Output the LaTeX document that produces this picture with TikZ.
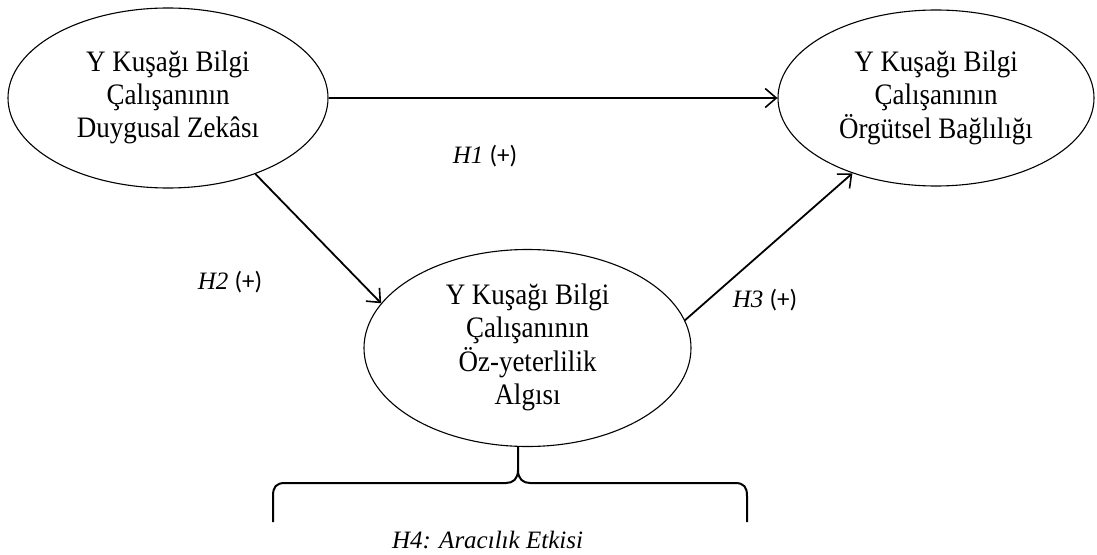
\documentclass[tikz,border=0pt]{standalone}
\usepackage{fontspec}
\setmainfont{Liberation Serif}
\newfontfamily\calib{Carlito}
\usetikzlibrary{shapes.geometric,arrows.meta}
\newcommand{\tallstack}[1]{\scalebox{1}[1.1]{\begin{tabular}{@{}c@{}}#1\end{tabular}}}
\begin{document}
\begin{tikzpicture}[x=1pt,y=-1pt,
  construct/.style={draw,ellipse,inner sep=0pt,line width=1.1pt,
    font=\fontsize{27}{30}\selectfont},
  hyp/.style={-{Straight Barb[length=11pt,width=19pt,line width=1.6pt]},line width=1.8pt},
  hlabel/.style={inner sep=0pt,font=\fontsize{25}{28}\selectfont}]
\useasboundingbox (0,0) rectangle (1097,554);
\node[construct,minimum width=320pt,minimum height=180pt] (e1) at (168,98)
  {\tallstack{Y Kuşağı Bilgi\\Çalışanının\\Duygusal Zekâsı}};
\node[construct,minimum width=316pt,minimum height=176pt] (e2) at (936,98)
  {\tallstack{Y Kuşağı Bilgi\\Çalışanının\\Örgütsel Bağlılığı}};
\node[construct,minimum width=327pt,minimum height=197pt] (e3) at (527.5,348)
  {\tallstack{Y Kuşağı Bilgi\\Çalışanının\\Öz-yeterlilik\\Algısı}};
\draw[hyp] (e1.east) -- (e2.west);
\draw[hyp] (e1.-41.5) -- (e3.163.4);
\draw[hyp] (e3.10.2) -- (e2.-138);
\node[hlabel] (l1) at (485,156) {\textit{H1} {\calib(+)}};
\node[hlabel] (l2) at (230,282) {\textit{H2} {\calib(+)}};
\node[hlabel] (l3) at (765,300) {\textit{H3} {\calib(+)}};
\coordinate (tip) at (518,447);
\draw[line width=2pt,line join=round]
  (273,522) -- (273,496) .. controls (273,487) and (276,483) .. (285,483)
  -- (506,483) .. controls (513,483) and (518,479) .. (518,470) -- (tip);
\draw[line width=2pt,line join=round]
  (747,522) -- (747,496) .. controls (747,487) and (744,483) .. (735,483)
  -- (530,483) .. controls (523,483) and (518,479) .. (518,470);
\node[inner sep=0pt,font=\fontsize{25}{28}\selectfont\itshape] (h4) at (487.5,540) {H4: Aracılık Etkisi};
\end{tikzpicture}
\end{document}
